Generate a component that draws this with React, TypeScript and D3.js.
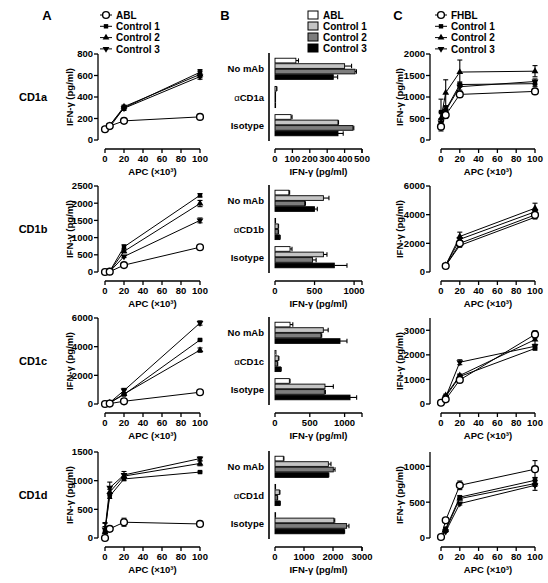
import React from "react";
import * as d3 from "d3";

// ---------- data ----------
const X_APC = [0, 5, 20, 100];
const ISOFORMS = ["CD1a", "CD1b", "CD1c", "CD1d"];
const SERIES_A = ["ABL", "Control 1", "Control 2", "Control 3"];
const SERIES_C = ["FHBL", "Control 1", "Control 2", "Control 3"];
const SERIES_B = ["ABL", "Control 1", "Control 2", "Control 3"];

// Panel A (ABL vs controls), [series][x]
const A_CD1a_MEAN = [[100, 130, 178, 215], [95, 120, 300, 630], [100, 135, 310, 610], [100, 140, 295, 590]];
const A_CD1a_ERR = [[5, 10, 10, 10], [5, 10, 15, 25], [5, 10, 15, 30], [5, 10, 20, 25]];
const A_CD1b_MEAN = [[0, 10, 200, 720], [0, 20, 730, 2230], [0, 15, 600, 1990], [0, 10, 450, 1500]];
const A_CD1b_ERR = [[5, 5, 20, 30], [5, 5, 60, 50], [5, 5, 40, 90], [5, 5, 30, 70]];
const A_CD1c_MEAN = [[0, 30, 190, 820], [0, 80, 660, 4470], [0, 90, 700, 3760], [0, 100, 940, 5650]];
const A_CD1c_ERR = [[10, 10, 40, 50], [10, 20, 50, 60], [10, 20, 60, 150], [10, 20, 150, 150]];
const A_CD1d_MEAN = [[0, 160, 275, 245], [135, 730, 1030, 1150], [100, 800, 1080, 1300], [150, 875, 1100, 1385]];
const A_CD1d_ERR = [[100, 30, 70, 40], [120, 40, 30, 15], [100, 50, 40, 40], [120, 100, 60, 30]];

// Panel C (FHBL vs controls), [series][x]
const C_CD1a_MEAN = [[310, 580, 1060, 1130], [650, 700, 1290, 1310], [500, 1100, 1580, 1600], [400, 680, 1240, 1360]];
const C_CD1a_ERR = [[100, 80, 60, 30], [300, 80, 60, 70], [150, 300, 280, 130], [100, 80, 80, 60]];
const C_CD1b_MEAN = [[NaN, 420, 2000, 3980], [NaN, 450, 1850, 3820], [NaN, 480, 2480, 4450], [NaN, 460, 2280, 4200]];
const C_CD1b_ERR = [[0, 50, 100, 100], [0, 50, 100, 100], [0, 60, 300, 350], [0, 50, 100, 150]];
const C_CD1c_MEAN = [[50, 190, 980, 2830], [50, 300, 1120, 2260], [50, 350, 1160, 2620], [50, 280, 1700, 2350]];
const C_CD1c_ERR = [[20, 30, 60, 150], [20, 40, 60, 60], [20, 50, 60, 200], [20, 40, 100, 80]];
const C_CD1d_MEAN = [[14, 247, 735, 960], [10, 130, 570, 805], [10, 110, 550, 760], [10, 90, 480, 735]];
const C_CD1d_ERR = [[5, 15, 60, 120], [5, 15, 20, 40], [5, 10, 20, 40], [5, 10, 20, 70]];

// Panel B (blocking), [group][series]
const B_GROUPS = [
  ["No mAb", "αCD1a", "Isotype"],
  ["No mAb", "αCD1b", "Isotype"],
  ["No mAb", "αCD1c", "Isotype"],
  ["No mAb", "αCD1d", "Isotype"],
];
const B_CD1a_MEAN = [[120, 400, 460, 335], [8, 2, 1, 1], [92, 362, 448, 362]];
const B_CD1a_ERR = [[15, 40, 8, 25], [3, 0, 0, 0], [6, 3, 5, 30]];
const B_CD1b_MEAN = [[175, 612, 375, 500], [5, 40, 40, 60], [190, 612, 475, 750]];
const B_CD1b_ERR = [[10, 70, 10, 35], [0, 5, 5, 5], [25, 45, 45, 160]];
const B_CD1c_MEAN = [[216, 694, 661, 934], [14, 48, 34, 81], [206, 718, 709, 1078]];
const B_CD1c_ERR = [[40, 70, 10, 100], [0, 8, 5, 8], [10, 120, 15, 95]];
const B_CD1d_MEAN = [[287, 1840, 2010, 1840], [10, 150, 80, 170], [15, 2030, 2470, 2380]];
const B_CD1d_ERR = [[20, 90, 60, 15], [0, 20, 10, 10], [0, 30, 80, 20]];

// axis domains / ticks
const A_YMAX = [800, 2500, 6000, 1500];
const A_YTICKS = [[0, 200, 400, 600, 800], [0, 500, 1000, 1500, 2000, 2500], [0, 2000, 4000, 6000], [0, 500, 1000, 1500]];
const C_YMAX = [2000, 6000, 3500, 1200];
const C_YTICKS = [[0, 500, 1000, 1500, 2000], [0, 2000, 4000, 6000], [0, 1000, 2000, 3000], [0, 500, 1000]];
const B_XMAX = [500, 1100, 1250, 3000];
const B_XTICKS = [[0, 100, 200, 300, 400, 500], [0, 500, 1000], [0, 500, 1000], [0, 1000, 2000, 3000]];
const X_TICKS = [0, 20, 40, 60, 80, 100];

const A_MEANS = [A_CD1a_MEAN, A_CD1b_MEAN, A_CD1c_MEAN, A_CD1d_MEAN];
const A_ERRS = [A_CD1a_ERR, A_CD1b_ERR, A_CD1c_ERR, A_CD1d_ERR];
const C_MEANS = [C_CD1a_MEAN, C_CD1b_MEAN, C_CD1c_MEAN, C_CD1d_MEAN];
const C_ERRS = [C_CD1a_ERR, C_CD1b_ERR, C_CD1c_ERR, C_CD1d_ERR];
const B_MEANS = [B_CD1a_MEAN, B_CD1b_MEAN, B_CD1c_MEAN, B_CD1d_MEAN];
const B_ERRS = [B_CD1a_ERR, B_CD1b_ERR, B_CD1c_ERR, B_CD1d_ERR];

// ---------- layout ----------
const W = 548, H = 583;
const ROW_TOP = [54, 186, 318, 452];
const PLOT_H = 86;
const FONT = "'Liberation Sans', Arial, Helvetica, sans-serif";
const BAR_FILLS = ["#ffffff", "#c4c4c4", "#7d7d7d", "#000000"];

const triUp = d3.symbol().type(d3.symbolTriangle).size(20)() as string;

function Marker({ kind, x, y }: { kind: number; x: number; y: number }) {
  if (kind === 0) return <circle cx={x} cy={y} r={3.4} fill="#fff" stroke="#000" strokeWidth={1.4} />;
  if (kind === 1) return <rect x={x - 2.2} y={y - 2.2} width={4.4} height={4.4} fill="#000" />;
  if (kind === 2) return <path d={triUp} transform={`translate(${x},${y})`} fill="#000" />;
  return <path d={triUp} transform={`translate(${x},${y}) rotate(180)`} fill="#000" />;
}

function LinePanel({ row, axisX, x0, x1, titleX, yMax, yTicks, means, errs }: any) {
  const top = ROW_TOP[row];
  const y = d3.scaleLinear().domain([0, yMax]).range([top + PLOT_H, top]);
  const x = d3.scaleLinear().domain([0, 100]).range([x0, x1]);
  const axY = top + PLOT_H + 9;
  const order = [1, 2, 3, 0];
  const line = d3.line<number>().defined((d) => !isNaN(d)).x((_, i) => x(X_APC[i])).y((d) => y(d));
  return (
    <g>
      <line x1={axisX} x2={axisX} y1={y(yMax)} y2={y(0)} stroke="#000" strokeWidth={1.3} />
      {yTicks.map((t: number) => (
        <g key={t}>
          <line x1={axisX - 4} x2={axisX} y1={y(t)} y2={y(t)} stroke="#000" strokeWidth={1.3} />
          <text x={axisX - 5} y={y(t) + 3.4} textAnchor="end" fontSize={9.5} fontWeight="bold">{t}</text>
        </g>
      ))}
      <text transform={`translate(${titleX},${top + PLOT_H / 2}) rotate(-90)`} textAnchor="middle" fontSize={9.5} fontWeight="bold">
        IFN-γ  (pg/ml)
      </text>
      <line x1={x(0)} x2={x(100)} y1={axY} y2={axY} stroke="#000" strokeWidth={1.3} />
      {X_TICKS.map((t) => (
        <g key={t}>
          <line x1={x(t)} x2={x(t)} y1={axY} y2={axY + 4} stroke="#000" strokeWidth={1.3} />
          <text x={x(t)} y={axY + 13} textAnchor="middle" fontSize={9.5} fontWeight="bold">{t}</text>
        </g>
      ))}
      <text x={(x(0) + x(100)) / 2} y={axY + 26} textAnchor="middle" fontSize={9.5} fontWeight="bold">APC (×10³)</text>
      {order.map((s) => (
        <g key={s}>
          <path d={line(means[s]) || ""} fill="none" stroke="#000" strokeWidth={1} />
          {means[s].map((m: number, i: number) => {
            if (isNaN(m)) return null;
            const e = errs[s][i];
            const cx = x(X_APC[i]);
            const lo = y(Math.max(0, m - e)), hi = y(m + e);
            return (
              <g key={i}>
                <line x1={cx} x2={cx} y1={lo} y2={hi} stroke="#000" strokeWidth={1.1} />
                <line x1={cx - 2.5} x2={cx + 2.5} y1={hi} y2={hi} stroke="#000" strokeWidth={1.1} />
                <line x1={cx - 2.5} x2={cx + 2.5} y1={lo} y2={lo} stroke="#000" strokeWidth={1.1} />
                <Marker kind={s} x={cx} y={y(m)} />
              </g>
            );
          })}
        </g>
      ))}
    </g>
  );
}

function BarPanel({ row }: { row: number }) {
  const top = ROW_TOP[row];
  const groups = B_GROUPS[row];
  const yb = d3.scaleBand<string>().domain(groups).range([top, top + PLOT_H]).paddingInner(0.25).paddingOuter(0.15);
  const ys = d3.scaleBand<string>().domain(SERIES_B).range([0, yb.bandwidth()]).paddingInner(0.15);
  const x = d3.scaleLinear().domain([0, B_XMAX[row]]).range([275, 362]);
  const axY = top + PLOT_H + 9;
  const means = B_MEANS[row], errs = B_ERRS[row];
  return (
    <g>
      <line x1={269} x2={269} y1={top - 1} y2={top + PLOT_H + 1} stroke="#000" strokeWidth={1.6} />
      {groups.map((g, gi) => {
        const cy = (yb(g) as number) + yb.bandwidth() / 2;
        const isAb = g.startsWith("α");
        return (
          <g key={g}>
            <text x={264} y={cy + 3.5} textAnchor="end" fontSize={9.5} fontWeight="bold">
              {isAb ? (
                <>
                  <tspan fontWeight="normal">α</tspan>
                  {g.slice(1)}
                </>
              ) : g}
            </text>
            {SERIES_B.map((s, si) => {
              const by = (yb(g) as number) + (ys(s) as number);
              const bh = ys.bandwidth();
              const v = means[gi][si], e = errs[gi][si];
              const xe = x(v + e);
              return (
                <g key={s}>
                  {e > 0 && (
                    <>
                      <line x1={x(v)} x2={xe} y1={by + bh / 2} y2={by + bh / 2} stroke="#000" strokeWidth={1.1} />
                      <line x1={xe} x2={xe} y1={by + bh / 2 - 2.2} y2={by + bh / 2 + 2.2} stroke="#000" strokeWidth={1.1} />
                    </>
                  )}
                  <rect x={x(0)} y={by} width={Math.max(0.6, x(v) - x(0))} height={bh} fill={BAR_FILLS[si]} stroke="#000" strokeWidth={0.9} />
                </g>
              );
            })}
          </g>
        );
      })}
      <line x1={x(0)} x2={x(B_XMAX[row])} y1={axY} y2={axY} stroke="#000" strokeWidth={1.3} />
      {B_XTICKS[row].map((t) => (
        <g key={t}>
          <line x1={x(t)} x2={x(t)} y1={axY} y2={axY + 4} stroke="#000" strokeWidth={1.3} />
          <text x={x(t)} y={axY + 13} textAnchor="middle" fontSize={9.5} fontWeight="bold">{t}</text>
        </g>
      ))}
      <line x1={x(B_XMAX[row])} x2={x(B_XMAX[row])} y1={axY} y2={axY + 4} stroke="#000" strokeWidth={1.3} />
      <text x={(x(0) + x(B_XMAX[row])) / 2} y={axY + 26} textAnchor="middle" fontSize={9.5} fontWeight="bold">IFN-γ  (pg/ml)</text>
    </g>
  );
}

function LineLegend({ x, names }: { x: number; names: string[] }) {
  return (
    <g>
      {names.map((n, i) => {
        const yy = 15 + i * 11.3;
        return (
          <g key={n}>
            <line x1={x - 6} x2={x + 6} y1={yy} y2={yy} stroke="#000" strokeWidth={1} />
            <Marker kind={i} x={x} y={yy} />
            <text x={x + 10} y={yy + 3.6} fontSize={10} fontWeight="bold">{n}</text>
          </g>
        );
      })}
    </g>
  );
}

function BarLegend() {
  return (
    <g>
      {SERIES_B.map((n, i) => {
        const yy = 15 + i * 11;
        return (
          <g key={n}>
            <rect x={308} y={yy - 4} width={10} height={8} fill={BAR_FILLS[i]} stroke="#000" strokeWidth={1} />
            <text x={323} y={yy + 3.6} fontSize={10} fontWeight="bold">{n}</text>
          </g>
        );
      })}
    </g>
  );
}

export default function App() {
  return (
    <svg width={W} height={H} style={{ position: "absolute", left: 0, top: 0, background: "#fff" }} fontFamily={FONT}>
      <rect width={W} height={H} fill="#fff" />
      <text x={47} y={20} textAnchor="middle" fontSize={13} fontWeight="bold">A</text>
      <text x={225} y={20} textAnchor="middle" fontSize={13} fontWeight="bold">B</text>
      <text x={398} y={20} textAnchor="middle" fontSize={13} fontWeight="bold">C</text>
      <LineLegend x={106} names={SERIES_A} />
      <BarLegend />
      <LineLegend x={441} names={SERIES_C} />
      {ISOFORMS.map((iso, r) => (
        <g key={iso}>
          <text x={33} y={ROW_TOP[r] + PLOT_H / 2 + 4} textAnchor="middle" fontSize={11} fontWeight="bold">{iso}</text>
          <LinePanel row={r} axisX={98} x0={105} x1={200} titleX={73} yMax={A_YMAX[r]} yTicks={A_YTICKS[r]} means={A_MEANS[r]} errs={A_ERRS[r]} />
          <BarPanel row={r} />
          <LinePanel row={r} axisX={430} x0={441} x1={535} titleX={403} yMax={C_YMAX[r]} yTicks={C_YTICKS[r]} means={C_MEANS[r]} errs={C_ERRS[r]} />
        </g>
      ))}
    </svg>
  );
}
